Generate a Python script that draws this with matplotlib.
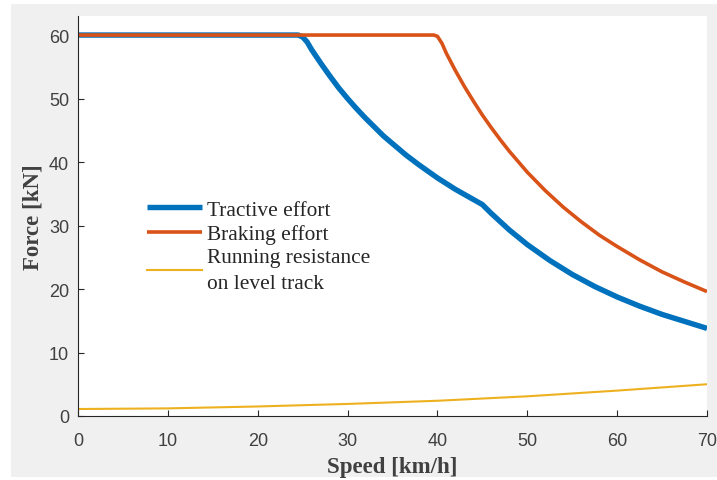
import matplotlib.pyplot as plt
from matplotlib.patches import Rectangle

# values
speed_tr = [0, 24.5, 25, 25.5, 26, 27, 28, 29, 30, 31, 32, 33, 34, 35, 36.5, 38, 40, 42, 44, 45, 46, 47, 48, 50,
            52.5, 55, 57.5, 60, 62.5, 65, 67.5, 70]
force_tr = [60, 60, 59.7, 58.9, 57.7, 55.6, 53.6, 51.7, 50.0, 48.4, 46.9, 45.5, 44.1, 42.9, 41.1, 39.5, 37.5, 35.7,
            34.1, 33.3, 31.9, 30.6, 29.3, 27.0, 24.5, 22.3, 20.4, 18.75, 17.3, 16.0, 14.9, 13.8]

speed_br = [0, 39.6, 40, 40.5, 41, 42, 43, 44, 45, 46, 47, 48, 50, 52, 54, 56, 58, 60, 62.5, 65, 67.5, 70]
force_br = [60, 60, 59.8, 58.7, 57.1, 54.4, 51.9, 49.6, 47.4, 45.4, 43.5, 41.7, 38.4, 35.5, 32.9, 30.6, 28.5,
            26.7, 24.6, 22.7, 21.1, 19.6]

speed_rr = [0, 10, 20, 30, 40, 50, 60, 70]
force_rr = [1.1, 1.2, 1.5, 1.9, 2.4, 3.1, 4.0, 5.0]

xticks = [0, 10, 20, 30, 40, 50, 60, 70]
yticks = [0, 10, 20, 30, 40, 50, 60]

fig = plt.figure(figsize=(7.17, 4.81), dpi=100, facecolor='white')
# grey MATLAB-style figure panel
fig.patches.append(Rectangle((11 / 717, 1 - 478 / 481), (717 - 11) / 717, (478 - 5) / 481,
                             transform=fig.transFigure, facecolor='#f0f0f0', edgecolor='none', zorder=-10))

ax = fig.add_axes([78 / 717, 1 - 417 / 481, 629 / 717, 400 / 481])
ax.set_zorder(1)
ax.set_facecolor('white')

ax.plot(speed_tr, force_tr, color='#0072bd', lw=3.9, solid_capstyle='butt', solid_joinstyle='round',
        label='Tractive effort')
ax.plot(speed_br, force_br, color='#d95319', lw=2.6, solid_capstyle='butt', solid_joinstyle='round',
        label='Braking effort')
ax.plot(speed_rr, force_rr, color='#edb120', lw=1.5, label='Running resistance\non level track')

ax.set_xlim(0, 70)
ax.set_ylim(0, 63)
ax.set_xticks(xticks)
ax.set_yticks(yticks)
ax.tick_params(direction='in', length=4, width=0.8, colors='#262626', labelsize=13)
ax.tick_params(axis='x', pad=11.5)
ax.tick_params(axis='y', pad=6.5)
for lab in ax.get_xticklabels() + ax.get_yticklabels():
    lab.set_color('#404040')
    lab.set_family('Liberation Sans')
ax.spines['top'].set_visible(False)
ax.spines['right'].set_visible(False)
for s in ['left', 'bottom']:
    ax.spines[s].set_color('#262626')
    ax.spines[s].set_linewidth(0.8)

ax.set_xlabel('Speed [km/h]', family='Liberation Serif', fontweight='bold', fontsize=16.5, color='#404040', labelpad=5)
ax.set_ylabel('Force [kN]', family='Liberation Serif', fontweight='bold', fontsize=16.5, color='#404040', labelpad=4)

leg = ax.legend(loc='upper left', bbox_to_anchor=(0.1097, 0.54), frameon=False,
                prop={'family': 'Liberation Serif', 'size': 15.4}, handlelength=2.57,
                handletextpad=0.23, labelspacing=0.2, borderaxespad=0, borderpad=0)
for t in leg.get_texts():
    t.set_color('#262626')
    t.set_linespacing(1.45)

fig.savefig('out.png', dpi=100, facecolor=fig.get_facecolor())
